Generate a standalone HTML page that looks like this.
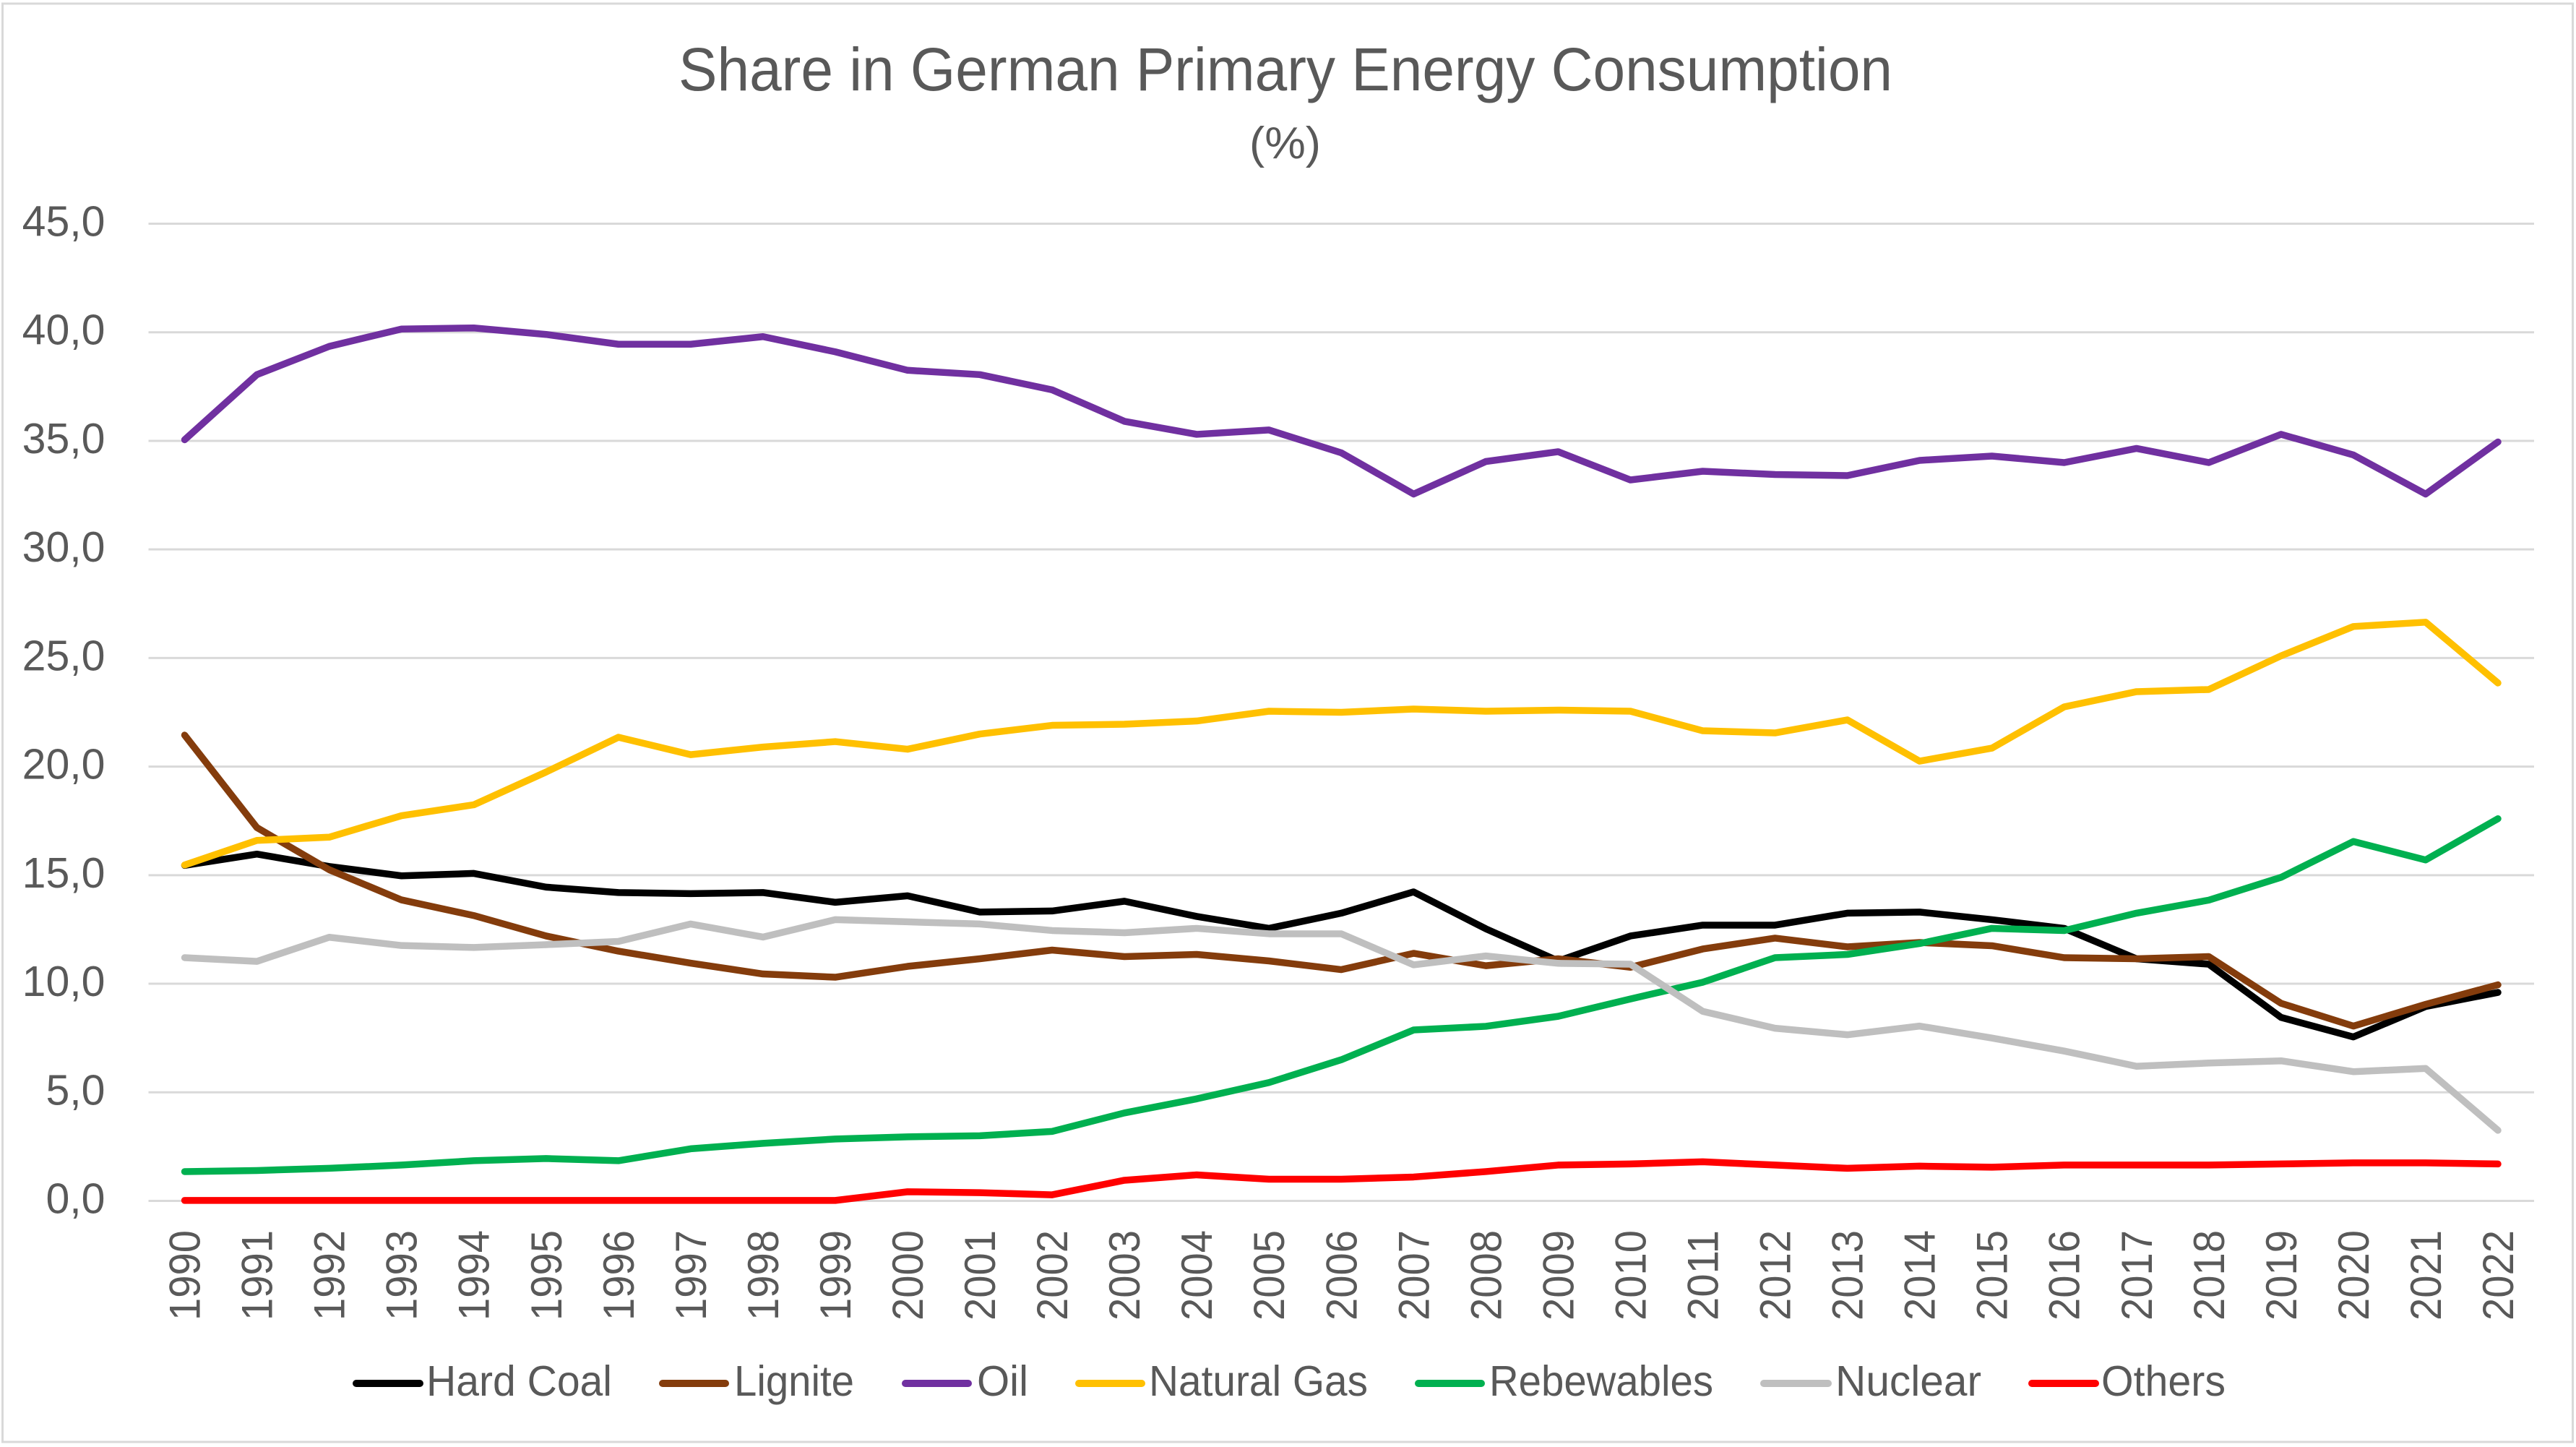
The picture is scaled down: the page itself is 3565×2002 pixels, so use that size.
<!DOCTYPE html>
<html lang="en">
<head>
<meta charset="utf-8">
<title>Share in German Primary Energy Consumption</title>
<style>
html,body{margin:0;padding:0;background:#fff;width:3565px;height:2002px;overflow:hidden}
svg{display:block}
text{font-family:"Liberation Sans",sans-serif;fill:#595959}
</style>
</head>
<body>
<svg id="chart" xmlns="http://www.w3.org/2000/svg" width="3565" height="2002" viewBox="0 0 3565 2002">
  <rect x="3.5" y="5" width="3557" height="1990" fill="#ffffff" stroke="#d9d9d9" stroke-width="3"/>
  <text x="939" y="125" font-size="84" textLength="1680" lengthAdjust="spacingAndGlyphs">Share in German Primary Energy Consumption</text>
  <text x="1729" y="219" font-size="62" textLength="99" lengthAdjust="spacingAndGlyphs">(%)</text>
  <g id="grid"></g>
  <g id="yaxis"></g>
  <g id="xaxis"></g>
  <g id="series"></g>
  <g stroke-linecap="round">
    <g>
      <line x1="493" y1="1914" x2="581" y2="1914" stroke="#000000" stroke-width="10"/>
      <text x="590" y="1931" font-size="59" textLength="257" lengthAdjust="spacingAndGlyphs">Hard Coal</text>
    </g>
    <g>
      <line x1="917" y1="1914" x2="1004" y2="1914" stroke="#843c0c" stroke-width="10"/>
      <text x="1016" y="1931" font-size="59" textLength="166" lengthAdjust="spacingAndGlyphs">Lignite</text>
    </g>
    <g>
      <line x1="1253" y1="1914" x2="1340" y2="1914" stroke="#7030a0" stroke-width="10"/>
      <text x="1352" y="1931" font-size="59" textLength="71" lengthAdjust="spacingAndGlyphs">Oil</text>
    </g>
    <g>
      <line x1="1493" y1="1914" x2="1580" y2="1914" stroke="#ffc000" stroke-width="10"/>
      <text x="1590" y="1931" font-size="59" textLength="303" lengthAdjust="spacingAndGlyphs">Natural Gas</text>
    </g>
    <g>
      <line x1="1963" y1="1914" x2="2050" y2="1914" stroke="#00b050" stroke-width="10"/>
      <text x="2061" y="1931" font-size="59" textLength="310" lengthAdjust="spacingAndGlyphs">Rebewables</text>
    </g>
    <g>
      <line x1="2441" y1="1914" x2="2530" y2="1914" stroke="#bfbfbf" stroke-width="10"/>
      <text x="2540" y="1931" font-size="59" textLength="202" lengthAdjust="spacingAndGlyphs">Nuclear</text>
    </g>
    <g>
      <line x1="2812" y1="1914" x2="2900" y2="1914" stroke="#ff0000" stroke-width="10"/>
      <text x="2908" y="1931" font-size="59" textLength="172" lengthAdjust="spacingAndGlyphs">Others</text>
    </g>
  </g>
</svg>
<script>
const years = [1990,1991,1992,1993,1994,1995,1996,1997,1998,1999,2000,2001,2002,2003,2004,2005,2006,2007,2008,2009,2010,2011,2012,2013,2014,2015,2016,2017,2018,2019,2020,2021,2022];
const yTickValues = [0,5,10,15,20,25,30,35,40,45];
const hardCoal = [15.45,15.97,15.4,14.97,15.08,14.45,14.2,14.15,14.2,13.75,14.05,13.3,13.35,13.8,13.1,12.55,13.25,14.23,12.53,11.05,12.2,12.7,12.7,13.25,13.3,12.95,12.55,11.15,10.9,8.45,7.55,8.95,9.6];
const lignite = [21.45,17.19,15.25,13.86,13.14,12.2,11.5,10.95,10.45,10.3,10.8,11.15,11.55,11.25,11.35,11.05,10.65,11.4,10.83,11.15,10.76,11.6,12.1,11.7,11.9,11.75,11.2,11.15,11.25,9.1,8.05,9.05,9.95];
const oil = [35.05,38.05,39.35,40.15,40.2,39.9,39.45,39.45,39.8,39.1,38.25,38.05,37.35,35.9,35.3,35.5,34.45,32.55,34.05,34.5,33.2,33.6,33.45,33.4,34.1,34.3,34.0,34.65,34.0,35.3,34.35,32.55,34.95];
const naturalGas = [15.47,16.6,16.75,17.74,18.24,19.75,21.35,20.55,20.9,21.15,20.8,21.5,21.9,21.95,22.1,22.55,22.5,22.65,22.55,22.6,22.55,21.65,21.55,22.15,20.25,20.85,22.75,23.45,23.55,25.1,26.45,26.65,23.85];
const rebewables = [1.35,1.4,1.5,1.65,1.85,1.95,1.85,2.4,2.65,2.85,2.95,3.0,3.2,4.05,4.7,5.45,6.5,7.87,8.04,8.5,9.3,10.07,11.2,11.35,11.85,12.55,12.45,13.25,13.85,14.9,16.55,15.7,17.6];
const nuclear = [11.2,11.03,12.14,11.76,11.67,11.8,11.95,12.75,12.15,12.95,12.85,12.75,12.45,12.35,12.55,12.3,12.3,10.87,11.28,10.94,10.9,8.73,7.95,7.65,8.05,7.5,6.9,6.2,6.35,6.45,5.95,6.1,3.25];
const others = [0.02,0.02,0.02,0.02,0.02,0.02,0.02,0.02,0.02,0.02,0.42,0.38,0.28,0.95,1.2,1.0,1.0,1.1,1.35,1.65,1.7,1.8,1.65,1.5,1.6,1.55,1.65,1.65,1.65,1.7,1.75,1.75,1.7];

const NS = 'http://www.w3.org/2000/svg';
const plotLeft = 205.5, plotRight = 3507, plotTop = 309.5, plotBottom = 1661.5, yMax = 45;
function xScale(i){ return plotLeft + (i + 0.5) * (plotRight - plotLeft) / years.length; }
function yScale(v){ return plotBottom - (v / yMax) * (plotBottom - plotTop); }

const gridG = document.getElementById('grid');
const yG = document.getElementById('yaxis');
const xG = document.getElementById('xaxis');
const seriesG = document.getElementById('series');

yTickValues.forEach(function(v){
  const line = document.createElementNS(NS, 'line');
  
  
  line.setAttribute('x1', plotLeft);
  line.setAttribute('x2', plotRight);
  line.setAttribute('y1', yScale(v));
  line.setAttribute('y2', yScale(v));
  line.setAttribute('stroke', '#d9d9d9');
  line.setAttribute('stroke-width', '3');
  gridG.appendChild(line);

  const t = document.createElementNS(NS, 'text');
  
  
  t.setAttribute('x', 145.5);
  t.setAttribute('y', yScale(v) + 17);
  t.setAttribute('text-anchor', 'end');
  t.setAttribute('font-size', '59');
  t.textContent = v.toFixed(1).replace('.', ',');
  yG.appendChild(t);
});

years.forEach(function(year, i){
  const t = document.createElementNS(NS, 'text');
  
  
  const x = xScale(i) + 21, y = 1702;
  t.setAttribute('transform', 'rotate(-90 ' + x + ' ' + y + ')');
  t.setAttribute('x', x);
  t.setAttribute('y', y);
  t.setAttribute('text-anchor', 'end');
  t.setAttribute('font-size', '60');
  t.setAttribute('textLength', '125');
  t.setAttribute('lengthAdjust', 'spacingAndGlyphs');
  t.textContent = year;
  xG.appendChild(t);
});

function drawSeries(name, values, color){
  const p = document.createElementNS(NS, 'polyline');
  
  
  p.setAttribute('points', values.map(function(v, i){ return xScale(i).toFixed(2) + ',' + yScale(v).toFixed(2); }).join(' '));
  p.setAttribute('fill', 'none');
  p.setAttribute('stroke', color);
  p.setAttribute('stroke-width', '9.5');
  p.setAttribute('stroke-linecap', 'round');
  p.setAttribute('stroke-linejoin', 'round');
  seriesG.appendChild(p);
}
drawSeries('line-hard-coal', hardCoal, '#000000');
drawSeries('line-lignite', lignite, '#843c0c');
drawSeries('line-oil', oil, '#7030a0');
drawSeries('line-natural-gas', naturalGas, '#ffc000');
drawSeries('line-rebewables', rebewables, '#00b050');
drawSeries('line-nuclear', nuclear, '#bfbfbf');
drawSeries('line-others', others, '#ff0000');
</script>
</body>
</html>
